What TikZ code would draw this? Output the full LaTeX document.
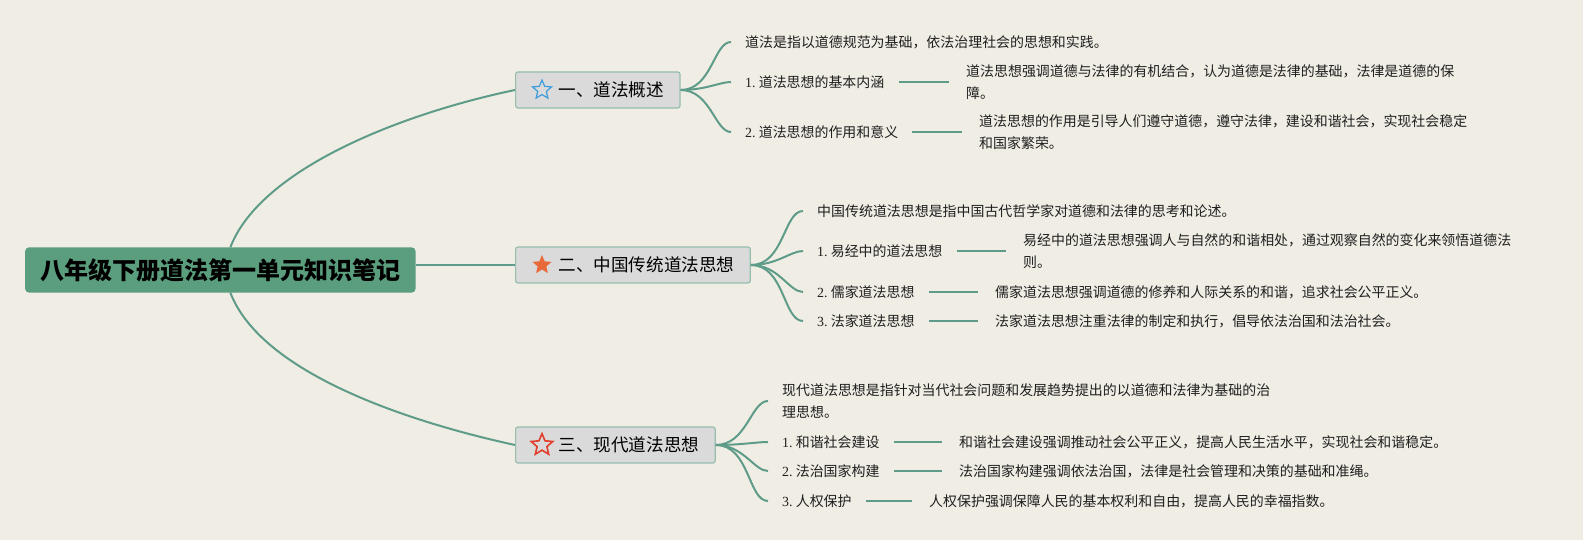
\documentclass[tikz,border=0pt]{standalone}
\usepackage{fontspec}
\setmainfont{Liberation Serif}
\newfontfamily\cjk{Noto Sans CJK SC}
\usetikzlibrary{shapes.geometric, calc}

\newcommand\leafno[1]{{\rmfamily #1.}~}

\begin{document}
\begin{tikzpicture}[x=0.03cm, y=-0.03cm]
    % Define colours
    \definecolor{paperColour}{HTML}{F0EDE4}
    \definecolor{rootColour}{HTML}{5A9E7D}
    \definecolor{linkColour}{HTML}{5E9C89}
    \definecolor{boxColour}{HTML}{DADADA}
    \definecolor{boxBorder}{HTML}{96BDAE}
    \definecolor{blueStar}{HTML}{3A9BDC}
    \definecolor{orangeStar}{HTML}{E8693A}
    \definecolor{redStar}{HTML}{E2402E}

    % Define styles
    \tikzset{
        link/.style={linkColour, line width=1.7pt},
        twig/.style={link, shorten >=0.42cm},
        bar/.style={link, shorten <=0.42cm, shorten >=0.5cm},
        rootbox/.style={fill=rootColour, rounded corners=3pt, inner xsep=0.45cm,
            minimum height=1.35cm, anchor=west, font=\cjk\bfseries\fontsize{20.5}{24}\selectfont},
        topic/.style={fill=boxColour, draw=boxBorder, line width=1pt, rounded corners=2pt,
            inner xsep=0.48cm, minimum height=1.08cm, anchor=west, font=\cjk\fontsize{15}{18}\selectfont},
        badge/.style={star, star points=5, star point ratio=2.2, minimum size=0.6cm, inner sep=0pt},
        leaf/.style={anchor=west, inner sep=0pt, align=left, text=black!88, font=\cjk\fontsize{11.9}{18.5}\selectfont}
    }

    % Draw paper
    \fill[paperColour] (0,0) rectangle (1583,540);
    \useasboundingbox (0,0) rectangle (1583,540);

    % Root and main topics
    \node[rootbox] (root) at (25,270) {八年级下册道法第一单元知识笔记};
    \node[topic] (b1) at (515,90) {\hspace{0.81cm}一、道法概述};
    \node[topic] (b2) at (515,265) {\hspace{0.81cm}二、中国传统道法思想};
    \node[topic] (b3) at (515,445) {\hspace{0.81cm}三、现代道法思想};

    % Stars
    \node[badge, draw=blueStar, line width=1pt] (s1) at ($(b1.west)+(27,0)$) {};
    \node[badge, fill=orangeStar] (s2) at ($(b2.west)+(27,0)$) {};
    \node[badge, draw=redStar, line width=1.4pt, minimum size=0.68cm] (s3) at ($(b3.west)+(27,0)$) {};

    % Main links
    \draw[link] ($(root.north)+(10,0)$) .. controls +(30,-78) and +(-115,24) .. (b1.west);
    \draw[link] (root.east |- b2.west) -- (b2.west);
    \draw[link] ($(root.south)+(10,0)$) .. controls +(30,78) and +(-115,-25) .. (b3.west);

    % Topic 1
    \node[leaf] (l11) at (745,42) {道法是指以道德规范为基础，依法治理社会的思想和实践。};
    \node[leaf] (l12) at (745,82) {\leafno{1}道法思想的基本内涵};
    \node[leaf] (d12) at (966,82) {道法思想强调道德与法律的有机结合，认为道德是法律的基础，法律是道德的保\\障。};
    \node[leaf] (l13) at (745,132) {\leafno{2}道法思想的作用和意义};
    \node[leaf] (d13) at (979,132) {道法思想的作用是引导人们遵守道德，遵守法律，建设和谐社会，实现社会稳定\\和国家繁荣。};
    \foreach \n in {l11,l12,l13}
        \draw[twig] (b1.east) to[out=0, in=180] (\n.west);
    \draw[bar] (l12.east) -- (d12.west);
    \draw[bar] (l13.east) -- (d13.west);

    % Topic 2
    \node[leaf] (l21) at (817,211) {中国传统道法思想是指中国古代哲学家对道德和法律的思考和论述。};
    \node[leaf] (l22) at (817,251) {\leafno{1}易经中的道法思想};
    \node[leaf] (d22) at (1023,251) {易经中的道法思想强调人与自然的和谐相处，通过观察自然的变化来领悟道德法\\则。};
    \node[leaf] (l23) at (817,292) {\leafno{2}儒家道法思想};
    \node[leaf] (d23) at (995,292) {儒家道法思想强调道德的修养和人际关系的和谐，追求社会公平正义。};
    \node[leaf] (l24) at (817,321) {\leafno{3}法家道法思想};
    \node[leaf] (d24) at (995,321) {法家道法思想注重法律的制定和执行，倡导依法治国和法治社会。};
    \foreach \n in {l21,l22,l23,l24}
        \draw[twig] (b2.east) to[out=0, in=180] (\n.west);
    \foreach \n in {2,3,4}
        \draw[bar] (l2\n.east) -- (d2\n.west);

    % Topic 3
    \node[leaf] (l31) at (782,401) {现代道法思想是指针对当代社会问题和发展趋势提出的以道德和法律为基础的治\\理思想。};
    \node[leaf] (l32) at (782,442) {\leafno{1}和谐社会建设};
    \node[leaf] (d32) at (959,442) {和谐社会建设强调推动社会公平正义，提高人民生活水平，实现社会和谐稳定。};
    \node[leaf] (l33) at (782,471) {\leafno{2}法治国家构建};
    \node[leaf] (d33) at (959,471) {法治国家构建强调依法治国，法律是社会管理和决策的基础和准绳。};
    \node[leaf] (l34) at (782,501) {\leafno{3}人权保护};
    \node[leaf] (d34) at (929,501) {人权保护强调保障人民的基本权利和自由，提高人民的幸福指数。};
    \foreach \n in {l31,l32,l33,l34}
        \draw[twig] (b3.east) to[out=0, in=180] (\n.west);
    \foreach \n in {2,3,4}
        \draw[bar] (l3\n.east) -- (d3\n.west);

\end{tikzpicture}
\end{document}
